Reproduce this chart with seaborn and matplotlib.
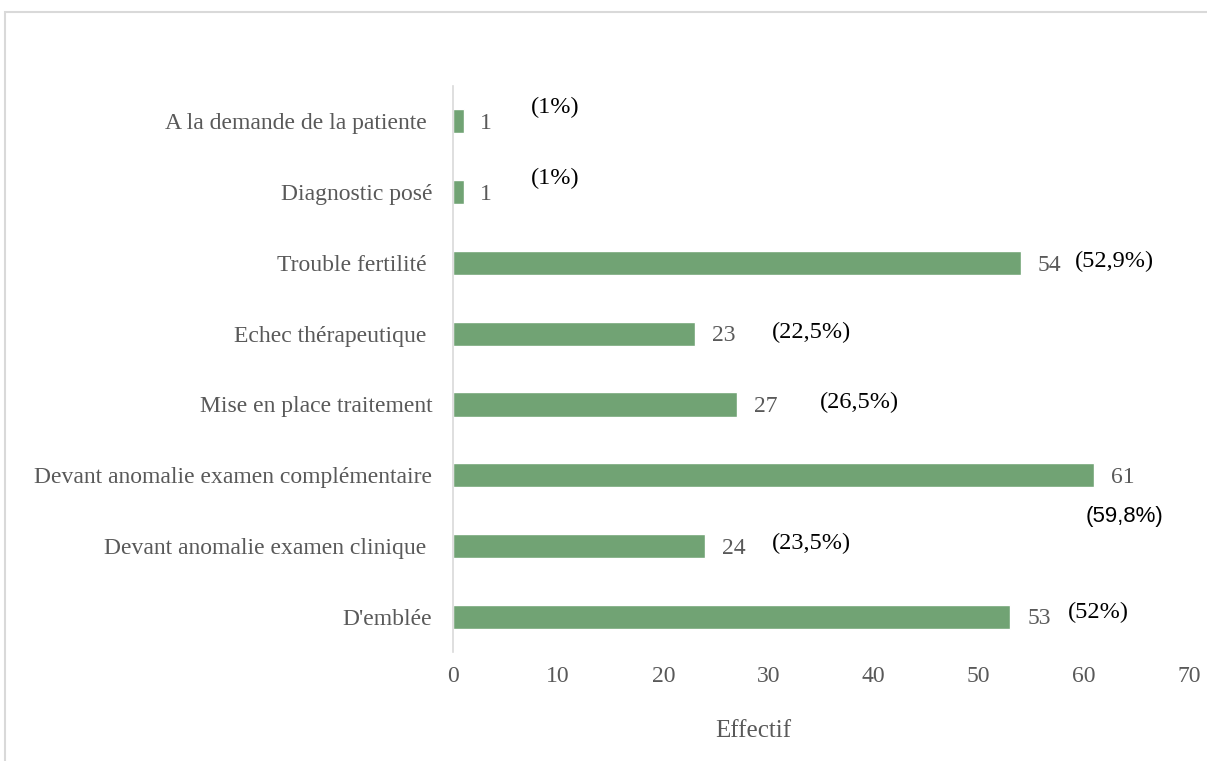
import matplotlib
matplotlib.use("Agg")
import matplotlib.pyplot as plt
from matplotlib.patches import Rectangle
import seaborn as sns
import pandas as pd

# data
categories = ["A la demande de la patiente ", "Diagnostic posé", "Trouble fertilité ",
              "Echec thérapeutique ", "Mise en place traitement", "Devant anomalie examen complémentaire",
              "Devant anomalie examen clinique ", "D'emblée"]
effectifs = [1, 1, 54, 23, 27, 61, 24, 53]
pourcentages = ["(1%)", "(1%)", "(52,9%)", "(22,5%)", "(26,5%)", "(59,8%)", "(23,5%)", "(52%)"]

# where the percent labels sit (x in data units, y shift in category units)
pct_x = [9.7, 9.7, 62.9, 34.1, 38.7, 63.9, 34.1, 61.4]
pct_dy = [-0.2, -0.2, -0.02, -0.02, -0.03, 0.58, -0.03, -0.06]

df = pd.DataFrame({"motif": categories, "n": effectifs})

sns.set_style("white")
plt.rcParams["font.family"] = ["Liberation Serif", "DejaVu Serif"]

fig = plt.figure(figsize=(12.07, 7.61), dpi=100)
ax = fig.add_axes([0.3753, 0.143, 0.6098, 0.744])

sns.barplot(data=df, y="motif", x="n", orient="h", color="#71a374",
            saturation=1, width=0.34, ax=ax)

ax.set_xlim(0, 70)
ax.set_ylim(7.5, -0.5)
ax.set_xticks(range(0, 71, 10))
ax.tick_params(axis="both", length=0, labelsize=17, labelcolor="#595959")
ax.tick_params(axis="y", pad=15)
ax.tick_params(axis="x", pad=10)
ax.set_ylabel("")
ax.set_xlabel("Effectif", fontsize=18, color="#595959")
ax.xaxis.set_label_coords(0.408, -0.12)

for s in ["top", "right", "bottom"]:
    ax.spines[s].set_visible(False)
ax.spines["left"].set_color("#d9d9d9")
ax.spines["left"].set_linewidth(1.2)

for i, (v, p) in enumerate(zip(effectifs, pourcentages)):
    ax.text(v + 1.6, i + 0.03, str(v), va="center", ha="left", fontsize=17, color="#595959")
    if p == "(59,8%)":
        ax.text(pct_x[i], i + pct_dy[i], p, va="center", ha="center", fontsize=16,
                color="black", family=["Liberation Sans"])
    else:
        ax.text(pct_x[i], i + pct_dy[i], p, va="center", ha="center", fontsize=17.5,
                color="black")

fig.patches.append(Rectangle((0.004, -0.01), 1.0, 0.994, transform=fig.transFigure,
                             fill=False, edgecolor="#d9d9d9", linewidth=1.5))

fig.savefig("out.png", dpi=100, facecolor="white")
